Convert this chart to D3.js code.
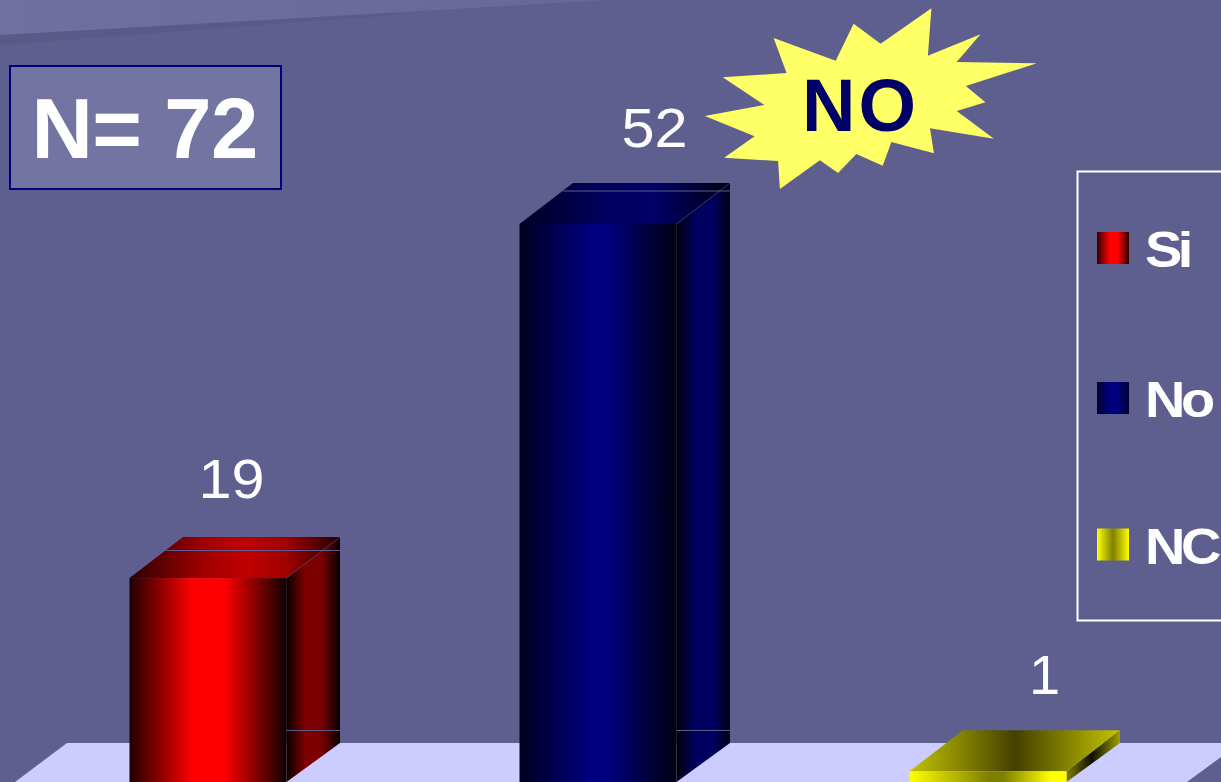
<!DOCTYPE html>
<html><head><meta charset="utf-8">
<script src="https://cdn.jsdelivr.net/npm/d3@7"></script>
<style>html,body{margin:0;padding:0;background:#5f5f8f;overflow:hidden}svg{display:block}text{font-family:"Liberation Sans",Arial,sans-serif}</style>
</head><body><svg id="c" width="1221" height="782"></svg>
<script>
const categories = ["Si","No","NC"];
const values = [19,52,1];
const sampleSize = "N= 72";
const calloutText = "NO";
const gridValues = [1.03,17.8,51.3];

const W=1221,H=782, depthX=53.5, depthTop=41, floorY=743;
const svg=d3.select("#c");
const x=d3.scaleBand().domain(categories).range([129.5,1066.5]).paddingInner(233/390).paddingOuter(0).align(0);
const y=d3.scaleLinear().domain([0,52]).range([782,224]);
const line=d3.line();
const defs=svg.append("defs");
function grad(id,stops){
  const g=defs.append("linearGradient").attr("id",id).attr("x1",0).attr("x2",1).attr("y1",0).attr("y2",0);
  stops.forEach(s=>g.append("stop").attr("offset",s[0]).attr("stop-color",s[1]));
}
const palette={
 Si:{front:[[0,"#200000"],[.4,"#ff0000"],[.6,"#ff0000"],[1,"#100000"]],
     side:[[0,"#080000"],[.35,"#800000"],[.65,"#7a0000"],[1,"#080000"]],
     top:[[0,"#2c0000"],[.35,"#a00000"],[.55,"#c00000"],[.75,"#a00000"],[1,"#200000"]],
     key:[[0,"#300000"],[.4,"#ff0000"],[.65,"#ff0000"],[1,"#300000"]]},
 No:{front:[[0,"#000020"],[.45,"#000080"],[.55,"#000080"],[1,"#000010"]],
     side:[[0,"#000008"],[.35,"#000060"],[.7,"#000060"],[1,"#000010"]],
     top:[[0,"#000020"],[.4,"#000060"],[.65,"#000066"],[1,"#000010"]],
     key:[[0,"#000030"],[.4,"#000080"],[.65,"#000080"],[1,"#000030"]]},
 NC:{front:[[0,"#ffff00"],[.5,"#808000"],[.6,"#808000"],[.9,"#ffff00"],[1,"#ffff00"]],
     side:[[0,"#808000"],[.47,"#100f00"],[1,"#a0a000"]],
     top:[[0,"#c4c400"],[.5,"#444000"],[1,"#c4c400"]],
     key:[[0,"#ffff00"],[.5,"#808000"],[1,"#ffff00"]]}
};
categories.forEach(c=>["front","side","top","key"].forEach(k=>grad(c+k,palette[c][k])));
grad("band",[[0,"#7070a0"],[1,"#686898"]]);

svg.append("rect").attr("width",W).attr("height",H).attr("fill","#5f5f8f");
svg.append("path").attr("d",line([[0,45],[0,35],[400,13],[395,15]])+"Z").attr("fill","#5a5a88");
svg.append("path").attr("d",line([[0,0],[608,0],[0,35]])+"Z").attr("fill","url(#band)");

svg.append("path").attr("d",line([[67,floorY],[W,floorY],[W,757],[1187,H],[15,H]])+"Z").attr("fill","#ccccff");

const g=svg.selectAll("g.bar").data(categories.map((c,i)=>({c,v:values[i]}))).join("g").attr("class","bar");
const bw=x.bandwidth();
g.append("path").attr("fill",d=>`url(#${d.c}side)`).attr("d",d=>{
  const r=x(d.c)+bw; return line([[r,y(d.v)],[r+depthX,y(d.v)-depthTop],[r+depthX,floorY],[r,y(0)]])+"Z";});
g.append("path").attr("fill",d=>`url(#${d.c}top)`).attr("d",d=>{
  const l=x(d.c),r=l+bw,t=y(d.v); return line([[l,t],[l+depthX,t-depthTop],[r+depthX,t-depthTop],[r,t]])+"Z";});
g.append("rect").attr("fill",d=>`url(#${d.c}front)`).attr("x",d=>x(d.c)).attr("width",bw)
  .attr("y",d=>y(d.v)).attr("height",d=>y(0)-y(d.v));
g.filter(d=>d.c!=="NC").append("path").attr("fill","none").attr("stroke","#5f5f8f").attr("stroke-opacity",.45).attr("d",d=>{
  const r=x(d.c)+bw,t=y(d.v); return line([[r,t],[r+depthX,t-depthTop]]);});

g.each(function(d){
  const l=x(d.c),r=l+bw,t=y(d.v);
  gridValues.forEach((v,i)=>{
    if(v>d.v) return;
    const yy=y(v)-depthTop;
    const inTop=yy<t;
    if(!inTop && i>0) return;
    const start = inTop ? l+(t-yy)/depthTop*depthX : r;
    d3.select(this).append("line").attr("x1",start).attr("x2",r+depthX).attr("y1",yy+.5).attr("y2",yy+.5)
      .attr("stroke","#5f5f8f").attr("stroke-width",1);
  });
});

const labelDx=[102,135,135], labelDy=[80,77,77];
g.append("text").text(d=>d.v).attr("text-anchor","middle")
  .attr("x",(d,i)=>x(d.c)+labelDx[i]).attr("y",(d,i)=>y(d.v)-labelDy[i])
  .attr("font-size",56).attr("fill","#fff")
  .each(function(d){ if(String(d.v).length>1) d3.select(this).attr("textLength",66).attr("lengthAdjust","spacingAndGlyphs"); });

svg.append("rect").attr("x",10).attr("y",66).attr("width",271).attr("height",123)
  .attr("fill","#7474a2").attr("stroke","#000080").attr("stroke-width",2);
svg.append("text").text(sampleSize).attr("x",31.5).attr("y",158).attr("font-size",85).attr("font-weight","bold").attr("fill","#fff").attr("letter-spacing",-.6);

const burst=[[931.4,8.3],[927.9,55.7],[980.5,34.3],[956.7,62],[1036.7,63.3],[965.8,86],[985.4,102.3],[956.7,111],[993.9,138.7],[930,128.3],[933.9,153.3],[891.4,142],[882.7,165.7],[856.4,154],[838.1,173],[819.9,160.3],[779.9,189],[778.1,161],[724.1,157.7],[754.6,136.3],[704.8,116],[764.5,105],[722.7,77.3],[786.6,73],[773.6,38],[835.7,60.7],[853.6,23.7],[880.6,43.7]];
svg.append("path").attr("d",line(burst)+"Z").attr("fill","#ffff66");
svg.append("text").text(calloutText).attr("x",802).attr("y",131).attr("font-size",74).attr("font-weight","bold").attr("letter-spacing",3).attr("fill","#000066");

svg.append("rect").attr("x",1077.5).attr("y",171.5).attr("width",200).attr("height",449).attr("fill","none").attr("stroke","#fff").attr("stroke-width",2);
const keyCentres=[248,398,544.5];
const lg=svg.selectAll("g.key").data(categories).join("g").attr("class","key");
lg.append("rect").attr("x",1097).attr("width",32).attr("height",32).attr("y",(c,i)=>keyCentres[i]-16).attr("fill",c=>`url(#${c}key)`);
lg.append("text").text(c=>c).attr("transform",(c,i)=>`translate(1145,${keyCentres[i]+19}) scale(1.12,1)`).attr("font-size",50).attr("font-weight","bold").attr("letter-spacing",-4).attr("fill","#fff");
</script></body></html>
